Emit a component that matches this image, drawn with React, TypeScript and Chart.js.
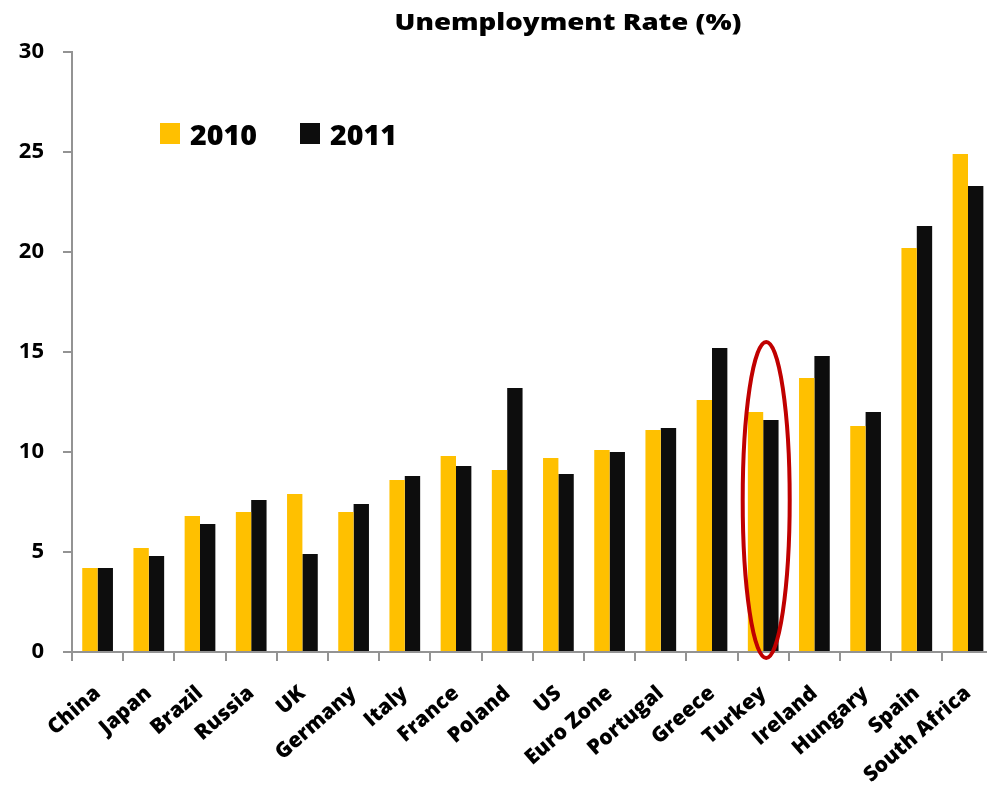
import React, { useEffect, useRef } from "react";
import { Chart, registerables } from "chart.js";

Chart.register(...registerables);

const categories = [
  "China", "Japan", "Brazil", "Russia", "UK", "Germany", "Italy", "France", "Poland",
  "US", "Euro Zone", "Portugal", "Greece", "Turkey", "Ireland", "Hungary", "Spain", "South Africa",
];
const rate2010 = [4.2, 5.2, 6.8, 7.0, 7.9, 7.0, 8.6, 9.8, 9.1, 9.7, 10.1, 11.1, 12.6, 12.0, 13.7, 11.3, 20.2, 24.9];
const rate2011 = [4.2, 4.8, 6.4, 7.6, 4.9, 7.4, 8.8, 9.3, 13.2, 8.9, 10.0, 11.2, 15.2, 11.6, 14.8, 12.0, 21.3, 23.3];
const seriesLabels = ["2010", "2011"];
const yMin = 0;
const yMax = 30;
const yStep = 5;
const titleText = "Unemployment Rate (%)";
const highlightedCategory = "Turkey";
const highlightRange = [-0.3, 15.5];

const YELLOW = "#FFC000";
const BLACK = "#0D0D0D";
const AXIS = "#939393";
const FONT = '"Open Sans", "DejaVu Sans", sans-serif';

const W = 1000;
const H = 803;

const titlePlugin = {
  id: "customTitle",
  afterDraw(chart: any) {
    const ctx = chart.ctx;
    ctx.save();
    ctx.font = `800 23px ${FONT}`;
    const w = ctx.measureText(titleText).width;
    const sx = 347 / w;
    ctx.translate(568, 30);
    ctx.scale(sx, 1);
    ctx.fillStyle = "#000";
    ctx.textAlign = "center";
    ctx.textBaseline = "alphabetic";
    ctx.fillText(titleText, 0, 0);
    ctx.restore();
  },
};

const legendPlugin = {
  id: "customLegend",
  afterDraw(chart: any) {
    const ctx = chart.ctx;
    ctx.save();
    const startX = 160;
    const gap = 140;
    chart.data.datasets.forEach((ds: any, i: number) => {
      const x = startX + i * gap;
      ctx.fillStyle = ds.backgroundColor;
      ctx.fillRect(x, 123, 20, 21);
      ctx.fillStyle = "#000";
      ctx.font = `800 29px ${FONT}`;
      ctx.textAlign = "left";
      ctx.textBaseline = "alphabetic";
      const tw = ctx.measureText(ds.label).width;
      ctx.translate(x + 30, 145);
      ctx.scale(67 / tw, 1);
      ctx.fillText(ds.label, 0, 0);
      ctx.setTransform(1, 0, 0, 1, 0, 0);
    });
    ctx.restore();
  },
};

const ellipsePlugin = {
  id: "highlightEllipse",
  afterDraw(chart: any) {
    const xs = chart.scales.x;
    const ys = chart.scales.y;
    const idx = categories.indexOf(highlightedCategory);
    if (idx < 0) return;
    const cx = xs.getPixelForValue(idx) + 3;
    const top = ys.getPixelForValue(highlightRange[1]);
    const bottom = ys.getPixelForValue(highlightRange[0]);
    const ctx = chart.ctx;
    ctx.save();
    ctx.beginPath();
    ctx.ellipse(cx, (top + bottom) / 2, 23.5, (bottom - top) / 2, 0, 0, Math.PI * 2);
    ctx.strokeStyle = "#C00000";
    ctx.lineWidth = 4;
    ctx.stroke();
    ctx.restore();
  },
};

export default function App() {
  const ref = useRef<HTMLCanvasElement | null>(null);

  useEffect(() => {
    document.body.style.overflow = "hidden";
    const canvas = ref.current;
    if (!canvas) return;
    const chart = new Chart(canvas, {
      type: "bar",
      data: {
        labels: categories,
        datasets: [
          {
            label: seriesLabels[0],
            data: rate2010,
            backgroundColor: YELLOW,
            categoryPercentage: 0.6,
            barPercentage: 1.0,
          },
          {
            label: seriesLabels[1],
            data: rate2011,
            backgroundColor: BLACK,
            categoryPercentage: 0.6,
            barPercentage: 1.0,
          },
        ],
      },
      options: {
        responsive: false,
        animation: false,
        devicePixelRatio: 1,
        layout: { padding: { top: 52, left: 0, right: 6.4, bottom: 0 } },
        plugins: {
          legend: { display: false },
          title: { display: false },
          tooltip: { enabled: false },
        },
        scales: {
          x: {
            offset: true,
            grid: {
              offset: true,
              drawOnChartArea: false,
              drawTicks: true,
              tickLength: 9,
              color: AXIS,
              lineWidth: 2,
            },
            border: { color: AXIS, width: 2 },
            ticks: {
              autoSkip: false,
              minRotation: 41,
              maxRotation: 41,
              padding: 20,
              color: "#000",
              font: { family: FONT, size: 21, weight: "800" },
            },
            afterFit(scale: any) {
              scale.height = 151;
              scale.paddingLeft = 0;
              scale.paddingRight = 0;
            },
          },
          y: {
            min: yMin,
            max: yMax,
            grid: {
              drawOnChartArea: false,
              drawTicks: true,
              tickLength: 9,
              color: AXIS,
              lineWidth: 2,
            },
            border: { color: AXIS, width: 2 },
            ticks: {
              stepSize: yStep,
              padding: 19,
              color: "#000",
              font: { family: FONT, size: 22, weight: "bold" },
            },
            afterFit(scale: any) {
              scale.width = 72;
              scale.paddingTop = 0;
              scale.paddingBottom = 0;
            },
          },
        },
      },
      plugins: [titlePlugin, legendPlugin, ellipsePlugin],
    } as any);
    return () => chart.destroy();
  }, []);

  return (
    <div style={{ position: "fixed", left: 0, top: 0, width: W, height: H, background: "#fff" }}>
      <canvas ref={ref} width={W} height={H} style={{ width: W, height: H, display: "block" }} />
    </div>
  );
}
